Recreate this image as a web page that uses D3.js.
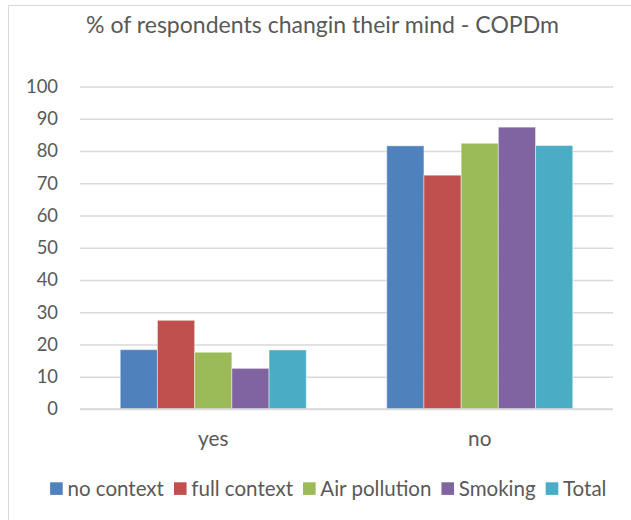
<!DOCTYPE html>
<html><head><meta charset="utf-8">
<script src="https://cdn.jsdelivr.net/npm/d3@7"></script>
<style>body{margin:0;background:#fff}svg{display:block}</style>
</head><body>
<svg id="c" width="631" height="520"></svg>
<script>
const title = "% of respondents changin their mind - COPDm";
const categories = ["yes", "no"];
const seriesNames = ["no context", "full context", "Air pollution", "Smoking", "Total"];
const noContext = [18.4, 81.6];
const fullContext = [27.5, 72.5];
const airPollution = [17.6, 82.4];
const smoking = [12.6, 87.4];
const total = [18.3, 81.7];
const yTicks = [0, 10, 20, 30, 40, 50, 60, 70, 80, 90, 100];
const colors = ["#4F81BD", "#C0504D", "#9BBB59", "#8064A2", "#4BACC6"];

const seriesValues = [noContext, fullContext, airPollution, smoking, total];
const FONT = "Lato, 'Open Sans', sans-serif";
const TEXT = "#595959";
const GRID = "#d9d9d9";

const svg = d3.select("#c");
svg.append("rect").attr("width", 631).attr("height", 520).attr("fill", "#fff");
svg.append("rect").attr("x", 8.5).attr("y", 5.5).attr("width", 700).attr("height", 600)
  .attr("fill", "none").attr("stroke", GRID).attr("stroke-width", 1);

function fitSize(str, targetW) {
  const t = svg.append("text").attr("font-family", FONT).attr("font-size", 20).text(str);
  const w = t.node().getComputedTextLength();
  t.remove();
  return 20 * targetW / w;
}
const titleSize = fitSize(title, 473);
const axisSize = fitSize("100", 32);
const catSize = (fitSize("yes", 30) + fitSize("no", 23.7)) / 2;
const legendSize = fitSize("no context", 96.6);

const x0 = d3.scaleBand().domain(categories).range([80, 613]).paddingInner(0.302).paddingOuter(0.151);
const x1 = d3.scaleBand().domain(seriesNames).range([0, x0.bandwidth()]);
const y = d3.scaleLinear().domain([0, 100]).range([409, 86.5]);

// title
svg.append("text").attr("x", 322.5).attr("y", 32.7).attr("text-anchor", "middle")
  .attr("font-family", FONT).attr("font-size", titleSize).attr("fill", TEXT).text(title);

// y axis (gridlines + labels)
const yAxis = d3.axisLeft(y).tickValues(yTicks).tickSize(-(613 - 80)).tickPadding(22).tickFormat(d3.format("d"));
const gy = svg.append("g").attr("transform", "translate(80,0)").call(yAxis);
gy.select(".domain").remove();
gy.selectAll(".tick line").attr("stroke", GRID).attr("stroke-width", 1.3);
gy.selectAll(".tick text").attr("font-family", FONT).attr("font-size", axisSize).attr("fill", TEXT)
  .attr("x", -22);

// bars
const groups = svg.append("g").selectAll("g").data(categories).join("g")
  .attr("transform", d => `translate(${x0(d)},0)`);
groups.selectAll("rect").data((d, i) => seriesNames.map((s, j) => ({s, v: seriesValues[j][i], j})))
  .join("rect")
  .attr("x", d => x1(d.s)).attr("width", x1.bandwidth())
  .attr("y", d => y(d.v)).attr("height", d => y(0) - y(d.v))
  .attr("fill", d => colors[d.j]).attr("stroke", "#ffffff").attr("stroke-opacity", 0.45).attr("stroke-width", 1);

// baseline
svg.append("line").attr("x1", 80).attr("x2", 613).attr("y1", y(0)).attr("y2", y(0))
  .attr("stroke", GRID).attr("stroke-width", 1.3);

// x axis labels
const xAxis = d3.axisBottom(x0).tickSize(0).tickPadding(0);
const gx = svg.append("g").call(xAxis);
gx.select(".domain").remove();
gx.selectAll(".tick text").attr("font-family", FONT).attr("font-size", catSize).attr("fill", TEXT)
  .attr("dy", null).attr("y", 446);

// legend
const leg = svg.append("g");
const items = leg.selectAll("g").data(seriesNames).join("g");
items.append("rect").attr("width", 12.6).attr("height", 12.6).attr("y", 482.3).attr("fill", (d, i) => colors[i]);
items.append("text").attr("x", 17.3).attr("y", 496).attr("font-family", FONT).attr("font-size", legendSize)
  .attr("fill", TEXT).text(d => d);
let widths = [];
items.each(function () { widths.push(17.3 + d3.select(this).select("text").node().getComputedTextLength()); });
const gap = 10;
const totalW = d3.sum(widths) + gap * (widths.length - 1);
let cx = 328.3 - totalW / 2;
items.attr("transform", (d, i) => { const t = `translate(${cx},0)`; cx += widths[i] + gap; return t; });
</script>
</body></html>
